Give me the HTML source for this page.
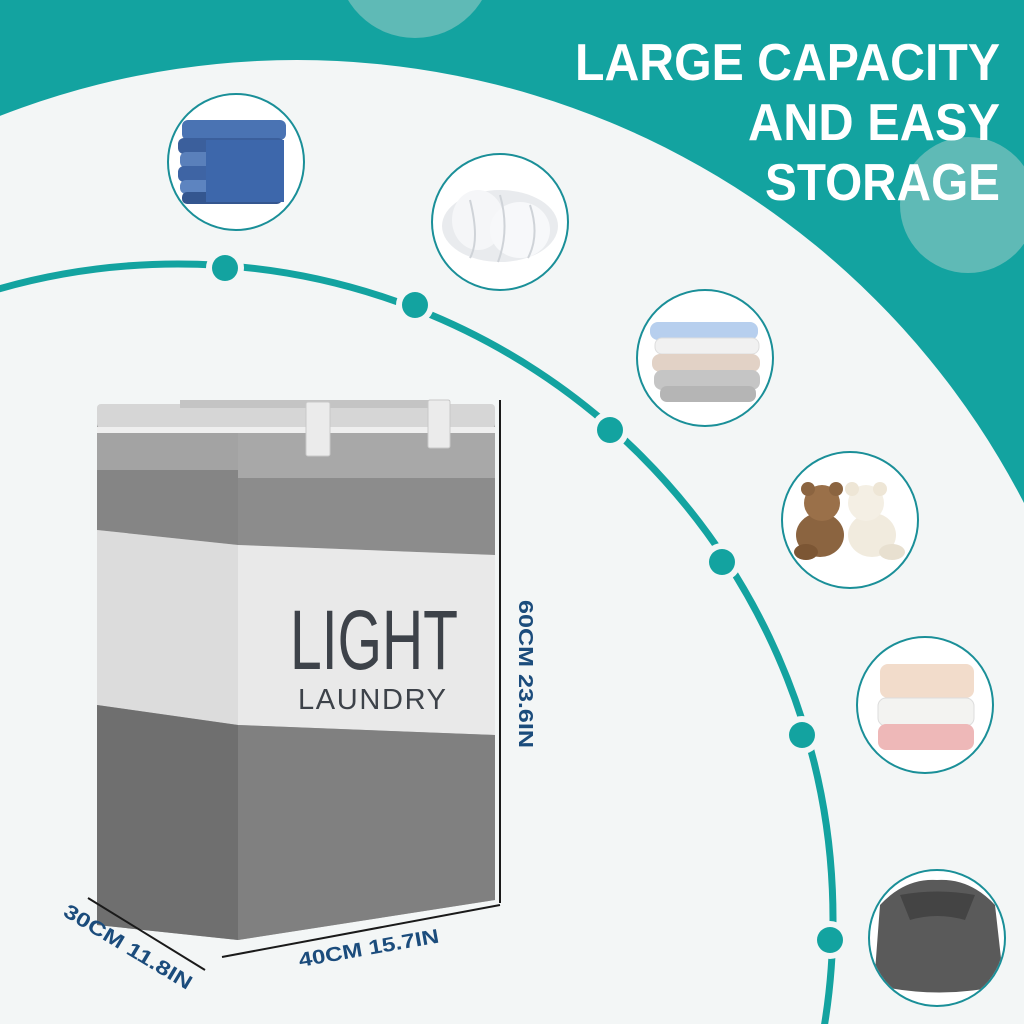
<!DOCTYPE html>
<html><head><meta charset="utf-8"><style>html,body{margin:0;padding:0;background:#f3f6f6;width:1024px;height:1024px;overflow:hidden}svg{display:block;overflow:hidden}</style></head>
<body>
<svg width="1024" height="1024" viewBox="0 0 1024 1024" xmlns="http://www.w3.org/2000/svg" font-family="Liberation Sans, sans-serif">
<defs><clipPath id="cc"><circle cx="937" cy="938" r="67"/></clipPath></defs>
<rect width="1024" height="1024" fill="#13a3a0"/>
<circle cx="415" cy="-40" r="78" fill="#5fbab6"/>
<circle cx="968" cy="205" r="68" fill="#5fbab6"/>
<circle cx="297" cy="878" r="818" fill="#f3f6f6"/>
<g fill="#fff" font-weight="bold" font-size="52" text-anchor="end">
<text x="1000" y="80" textLength="425" lengthAdjust="spacingAndGlyphs">LARGE CAPACITY</text>
<text x="1000" y="140" textLength="252" lengthAdjust="spacingAndGlyphs">AND EASY</text>
<text x="1000" y="200" textLength="235" lengthAdjust="spacingAndGlyphs">STORAGE</text>
</g>
<circle cx="178" cy="919" r="655" fill="none" stroke="#13a3a0" stroke-width="7"/>
<g fill="#f3f6f6">
<circle cx="225" cy="268" r="19"/><circle cx="415" cy="305" r="19"/><circle cx="610" cy="430" r="19"/><circle cx="722" cy="562" r="19"/><circle cx="802" cy="735" r="19"/><circle cx="830" cy="940" r="19"/>
</g>
<g fill="#13a3a0">
<circle cx="225" cy="268" r="13"/><circle cx="415" cy="305" r="13"/><circle cx="610" cy="430" r="13"/><circle cx="722" cy="562" r="13"/><circle cx="802" cy="735" r="13"/><circle cx="830" cy="940" r="13"/>
</g>
<g fill="#fff" stroke="#1a8f98" stroke-width="2">
<circle cx="236" cy="162" r="68"/><circle cx="500" cy="222" r="68"/><circle cx="705" cy="358" r="68"/><circle cx="850" cy="520" r="68"/><circle cx="925" cy="705" r="68"/><circle cx="937" cy="938" r="68"/>
</g>
<g>
<rect x="182" y="120" width="104" height="20" rx="6" fill="#4a73b3"/>
<rect x="178" y="138" width="106" height="16" rx="6" fill="#3b5f9c"/>
<rect x="180" y="152" width="104" height="16" rx="6" fill="#5a80bb"/>
<rect x="178" y="166" width="106" height="16" rx="6" fill="#3e64a4"/>
<rect x="180" y="180" width="104" height="14" rx="6" fill="#5d84c0"/>
<rect x="182" y="192" width="100" height="12" rx="5" fill="#34568f"/>
<rect x="206" y="140" width="78" height="62" fill="#3d67ab"/>
</g>
<g>
<ellipse cx="500" cy="226" rx="58" ry="36" fill="#e9ebee"/>
<ellipse cx="478" cy="220" rx="26" ry="30" fill="#f5f6f8"/>
<ellipse cx="520" cy="230" rx="30" ry="28" fill="#f7f8fa"/>
<path d="M470 200 Q480 240 470 258 M500 195 Q510 230 498 262 M530 205 Q540 235 528 258" stroke="#cfd3d8" stroke-width="2" fill="none"/>
</g>
<g>
<rect x="650" y="322" width="108" height="18" rx="8" fill="#b7cfee"/>
<rect x="655" y="338" width="104" height="16" rx="7" fill="#f1f1f1" stroke="#ddd"/>
<rect x="652" y="354" width="108" height="18" rx="8" fill="#e2d2c6"/>
<rect x="654" y="370" width="106" height="20" rx="8" fill="#c5c5c5"/>
<rect x="660" y="386" width="96" height="16" rx="7" fill="#b5b5b5"/>
</g>
<g>
<ellipse cx="820" cy="535" rx="24" ry="22" fill="#8b6440"/>
<circle cx="822" cy="503" r="18" fill="#9a7049"/>
<circle cx="808" cy="489" r="7" fill="#8b6440"/><circle cx="836" cy="489" r="7" fill="#8b6440"/>
<ellipse cx="806" cy="552" rx="12" ry="8" fill="#7c5634"/>
<ellipse cx="872" cy="535" rx="24" ry="22" fill="#f1ebde"/>
<circle cx="866" cy="503" r="18" fill="#f4efe4"/>
<circle cx="852" cy="489" r="7" fill="#eee6d6"/><circle cx="880" cy="489" r="7" fill="#eee6d6"/>
<ellipse cx="892" cy="552" rx="13" ry="8" fill="#e8e0d0"/>
</g>
<g>
<rect x="880" y="664" width="94" height="34" rx="8" fill="#f2dccb"/>
<rect x="878" y="698" width="96" height="28" rx="8" fill="#f3f3f1" stroke="#ddd"/>
<rect x="878" y="724" width="96" height="26" rx="8" fill="#eeb8b8"/>
</g>
<g clip-path="url(#cc)">
<path d="M880 905 Q905 878 937 880 Q970 878 995 905 L1004 985 Q940 1000 874 985 Z" fill="#5a5a5a"/>
<path d="M900 895 Q937 888 975 895 L965 920 Q937 912 910 920 Z" fill="#444"/>
</g>
<g>
<polygon points="97,412 238,412 238,940 97,925" fill="#a3a3a3"/>
<polygon points="97,470 238,470 238,545 97,530" fill="#858585"/>
<polygon points="97,530 238,545 238,725 97,705" fill="#dcdcdc"/>
<polygon points="97,705 238,725 238,940 97,925" fill="#6f6f6f"/>
<polygon points="238,412 495,412 495,900 238,940" fill="#a8a8a8"/>
<polygon points="238,478 495,478 495,555 238,545" fill="#8c8c8c"/>
<polygon points="238,545 495,555 495,735 238,725" fill="#e9e9e9"/>
<polygon points="238,725 495,735 495,900 238,940" fill="#808080"/>
<rect x="97" y="404" width="398" height="24" rx="4" fill="#d6d6d6"/>
<rect x="97" y="427" width="398" height="6" fill="#efefef"/>
<rect x="180" y="400" width="270" height="8" fill="#c4c4c4"/>
<rect x="306" y="402" width="24" height="54" rx="2" fill="#ebebeb" stroke="#c8c8c8"/>
<rect x="428" y="400" width="22" height="48" rx="2" fill="#ebebeb" stroke="#c8c8c8"/>
<text x="290" y="669" font-size="84" fill="#3d4249" textLength="168" lengthAdjust="spacingAndGlyphs">LIGHT</text>
<text x="298" y="709" font-size="29" fill="#3d4249" textLength="148" lengthAdjust="spacing">LAUNDRY</text>
</g>
<g stroke="#1a1a1a" stroke-width="2">
<line x1="500" y1="400" x2="500" y2="903"/>
<line x1="222" y1="957" x2="500" y2="905"/>
<line x1="88" y1="898" x2="205" y2="970"/>
</g>
<g fill="#1b4c7c" font-weight="bold" font-size="20">
<text transform="translate(519,600) rotate(90)" textLength="148" lengthAdjust="spacingAndGlyphs">60CM 23.6IN</text>
<text transform="translate(300,967) rotate(-10)" textLength="142" lengthAdjust="spacingAndGlyphs">40CM 15.7IN</text>
<text transform="translate(62,915) rotate(31)" textLength="146" lengthAdjust="spacingAndGlyphs">30CM 11.8IN</text>
</g>
</svg>
</body></html>
